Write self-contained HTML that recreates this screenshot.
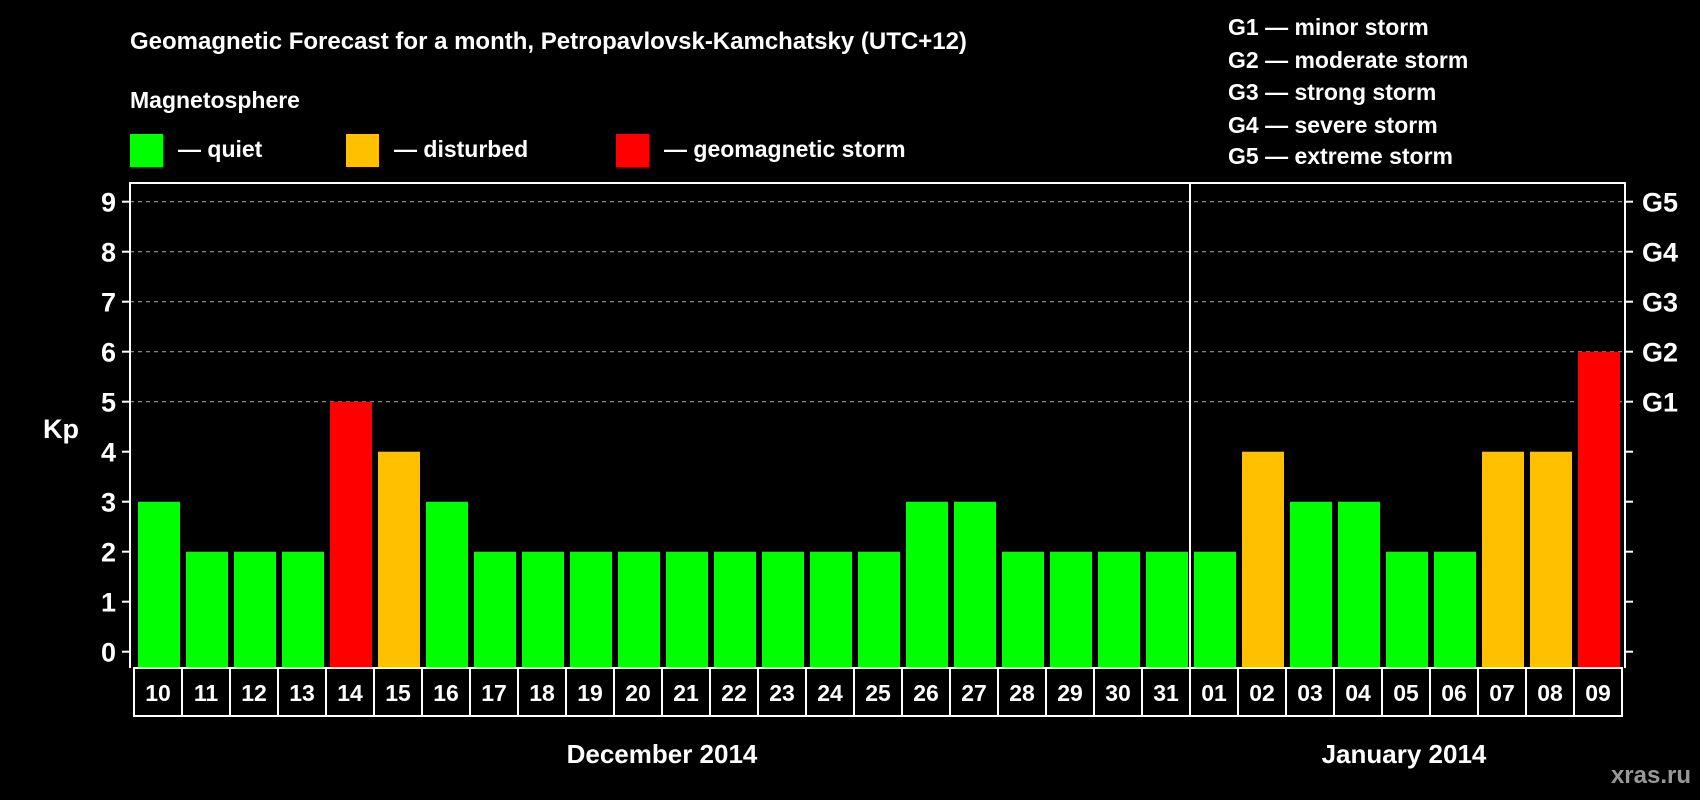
<!DOCTYPE html>
<html><head><meta charset="utf-8"><style>
body{margin:0;background:#000;}
svg{display:block;font-family:"Liberation Sans",Arial,sans-serif;font-weight:bold;}
</style></head><body>
<svg id="c" width="1700" height="800" viewBox="0 0 1700 800">
<rect width="1700" height="800" fill="#000"/>
<text x="130" y="49" fill="#fff" font-size="24">Geomagnetic Forecast for a month, Petropavlovsk-Kamchatsky (UTC+12)</text>
<text x="130" y="108" fill="#fff" font-size="23">Magnetosphere</text>
<g><rect x="130" y="134" width="33" height="33" fill="#00ff00"/><text x="178" y="157" fill="#fff" font-size="23">— quiet</text></g>
<g><rect x="346" y="134" width="33" height="33" fill="#ffc000"/><text x="394" y="157" fill="#fff" font-size="23">— disturbed</text></g>
<g><rect x="616" y="134" width="33" height="33" fill="#ff0000"/><text x="664" y="157" fill="#fff" font-size="23">— geomagnetic storm</text></g>
<g fill="#fff" font-size="23">
<text x="1228" y="35">G1 — minor storm</text>
<text x="1228" y="68">G2 — moderate storm</text>
<text x="1228" y="100">G3 — strong storm</text>
<text x="1228" y="133">G4 — severe storm</text>
<text x="1228" y="164">G5 — extreme storm</text>
</g>
<text x="43" y="438" fill="#fff" font-size="27">Kp</text>
<g id="grid"></g><g id="bars"></g><g id="axes"></g>
<text x="662" y="763" fill="#fff" font-size="26" text-anchor="middle">December 2014</text>
<text x="1404" y="763" fill="#fff" font-size="26" text-anchor="middle">January 2014</text>
<text x="1691" y="783" fill="#999" font-size="24" text-anchor="end">xras.ru</text>
</svg>
<script>
const days=["10","11","12","13","14","15","16","17","18","19","20","21","22","23","24","25","26","27","28","29","30","31","01","02","03","04","05","06","07","08","09"];
const kp=[3,2,2,2,5,4,3,2,2,2,2,2,2,2,2,2,3,3,2,2,2,2,2,4,3,3,2,2,4,4,6];
const yTicks=[0,1,2,3,4,5,6,7,8,9];
const gLabels=["G1","G2","G3","G4","G5"];
const gLevels=[5,6,7,8,9];
const NS="http://www.w3.org/2000/svg";
const L=130,R=1625,T=183,B=668,x0=134,pitch=48;
const y=v=>651.7-v*50;
const xc=i=>x0+i*pitch;
function mk(t,a,p){const e=document.createElementNS(NS,t);for(const k in a)e.setAttribute(k,a[k]);p.appendChild(e);return e;}
const grid=document.getElementById('grid'),bars=document.getElementById('bars'),axes=document.getElementById('axes');
gLevels.forEach(v=>{const l=mk('line',{x1:L,x2:R,y1:y(v),y2:y(v),stroke:'#999','stroke-width':1.2,'stroke-dasharray':'4 4'},grid);

});
kp.forEach((v,i)=>{const c=v>=5?'#ff0000':(v>=4?'#ffc000':'#00ff00');
const r=mk('rect',{x:xc(i)+4,y:y(v),width:42,height:y(0)-y(v)+16.3,fill:c},bars);


const b=mk('rect',{x:xc(i),y:B,width:pitch,height:48,fill:'none',stroke:'#fff','stroke-width':2},axes);


const t=mk('text',{x:xc(i)+pitch/2,y:B+33,fill:'#fff','font-size':23,'text-anchor':'middle'},axes);t.textContent=days[i];

});
const f=mk('path',{d:`M${L} ${B}V${T}H${R}V${B}`,fill:'none',stroke:'#fff','stroke-width':2},axes);


const dv=mk('line',{x1:xc(22),x2:xc(22),y1:T,y2:B,stroke:'#fff','stroke-width':2},axes);


yTicks.forEach(v=>{mk('line',{x1:L-8,x2:L,y1:y(v),y2:y(v),stroke:'#fff','stroke-width':2},axes);
mk('line',{x1:R,x2:R+8,y1:y(v),y2:y(v),stroke:'#fff','stroke-width':2},axes);
const t=mk('text',{x:116,y:y(v)+10,fill:'#fff','font-size':27,'text-anchor':'end'},axes);t.textContent=v;

});
gLevels.forEach((v,i)=>{const t=mk('text',{x:1642,y:y(v)+10,fill:'#fff','font-size':27},axes);t.textContent=gLabels[i];

});
</script>
</body></html>
